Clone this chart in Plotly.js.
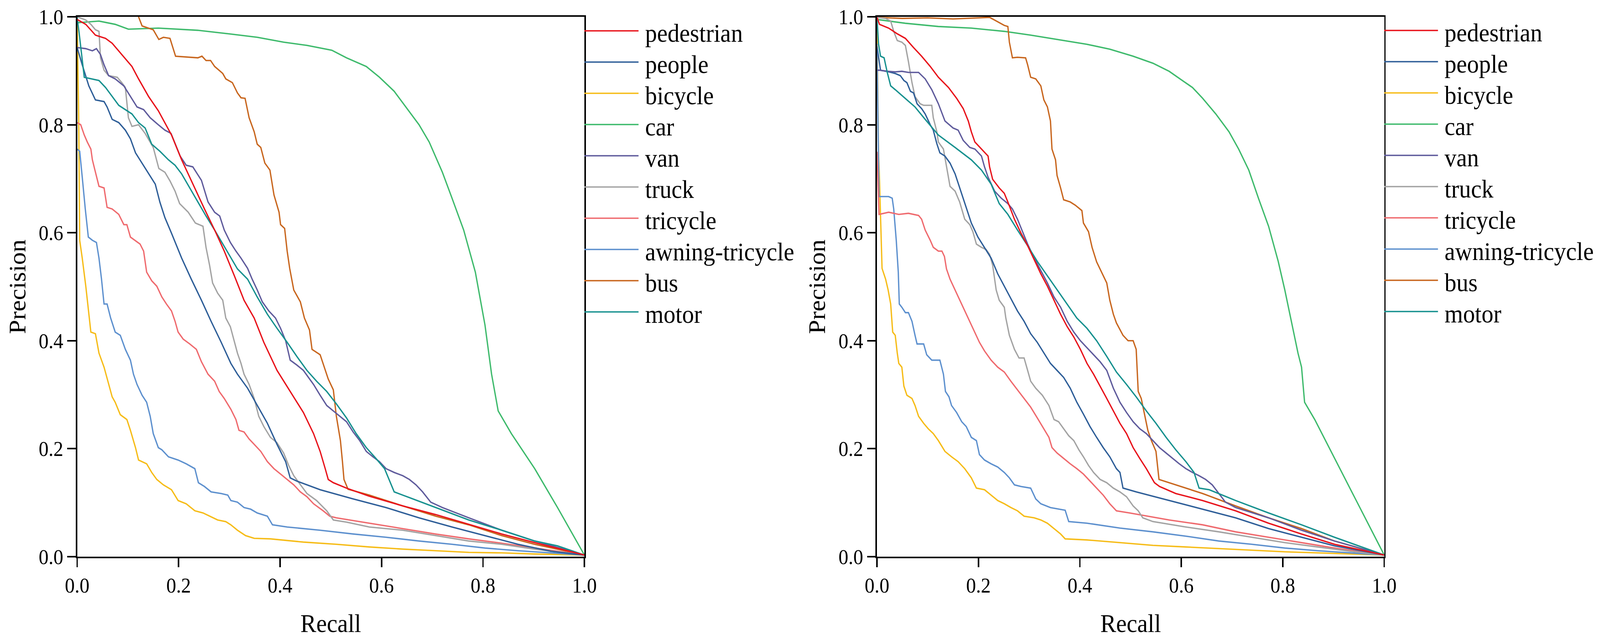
<!DOCTYPE html>
<html>
<head>
<meta charset="utf-8">
<script src="https://cdn.plot.ly/plotly-3.0.1.min.js"></script>
<style>
html,body{margin:0;padding:0;background:#fff;overflow:hidden;}
#chart{width:4375px;height:1642px;transform-origin:0 0;}
</style>
</head>
<body>
<div id="chart"></div>
<script>
// ---------- categories ----------
const categories = ["pedestrian","people","bicycle","car","van","truck","tricycle","awning-tricycle","bus","motor"];
const colors = ["#E8141C","#2E5E98","#F6BC18","#3EBA6C","#5F5B9C","#A3A3A3","#EF6A6E","#5D90CE","#C8661E","#17918F"];
const tickVals = [0,0.2,0.4,0.6,0.8,1.0];
const tickText = ["0.0","0.2","0.4","0.6","0.8","1.0"];
const xTitle = "Recall";
const yTitle = "Precision";

// ---------- left panel (A) ----------
const pedestrianRA = [0,0.017,0.036,0.056,0.069,0.088,0.108,0.121,0.141,0.16,0.186,0.206,0.225,0.251,0.271,0.29,0.31,0.329,0.349,0.368,0.394,0.42,0.446,0.466,0.479,0.489,0.495,0.505,0.531,0.576,0.642,0.707,0.772,0.837,0.902,1.0];
const pedestrianPA = [0.995,0.986,0.966,0.96,0.951,0.93,0.908,0.885,0.852,0.826,0.781,0.735,0.696,0.644,0.605,0.566,0.52,0.475,0.442,0.397,0.345,0.306,0.267,0.228,0.195,0.163,0.143,0.137,0.127,0.112,0.094,0.078,0.06,0.042,0.026,0.003];
const peopleRA = [0,0.01,0.023,0.036,0.053,0.059,0.069,0.082,0.095,0.105,0.115,0.128,0.141,0.154,0.163,0.173,0.186,0.206,0.225,0.245,0.264,0.284,0.303,0.316,0.336,0.355,0.375,0.394,0.411,0.42,0.433,0.479,0.544,0.609,0.674,0.739,0.804,0.869,0.934,1.0];
const peoplePA = [0.943,0.911,0.872,0.846,0.843,0.833,0.81,0.804,0.79,0.774,0.748,0.729,0.709,0.69,0.657,0.628,0.599,0.553,0.514,0.475,0.436,0.397,0.358,0.338,0.312,0.28,0.247,0.208,0.176,0.146,0.14,0.124,0.107,0.091,0.072,0.055,0.039,0.023,0.01,0.003];
const bicycleRA = [0,0.003,0.005,0.01,0.017,0.027,0.036,0.043,0.053,0.062,0.069,0.075,0.085,0.098,0.105,0.115,0.121,0.137,0.147,0.157,0.17,0.186,0.199,0.215,0.232,0.248,0.261,0.277,0.293,0.303,0.316,0.332,0.349,0.381,0.446,0.511,0.576,0.642,0.707,0.772,0.837,0.902,1.0];
const bicyclePA = [0.995,0.813,0.586,0.553,0.501,0.416,0.413,0.377,0.351,0.319,0.296,0.286,0.263,0.254,0.234,0.202,0.179,0.172,0.156,0.143,0.133,0.124,0.104,0.098,0.085,0.081,0.075,0.068,0.065,0.059,0.049,0.039,0.034,0.033,0.027,0.023,0.018,0.014,0.011,0.008,0.007,0.005,0.003];
const carRA = [0,0.043,0.075,0.101,0.16,0.238,0.303,0.355,0.407,0.453,0.502,0.531,0.57,0.596,0.625,0.648,0.674,0.694,0.72,0.739,0.762,0.785,0.804,0.817,0.83,0.856,0.902,0.947,1.0];
const carPA = [0.989,0.992,0.986,0.977,0.979,0.975,0.968,0.962,0.953,0.947,0.938,0.924,0.908,0.888,0.862,0.833,0.8,0.768,0.712,0.664,0.605,0.527,0.429,0.338,0.27,0.228,0.163,0.091,0.003];
const vanRA = [0,0.017,0.03,0.038,0.046,0.053,0.062,0.075,0.092,0.105,0.118,0.131,0.144,0.16,0.173,0.185,0.193,0.203,0.215,0.228,0.245,0.258,0.271,0.281,0.29,0.302,0.313,0.323,0.336,0.345,0.355,0.365,0.378,0.391,0.401,0.411,0.42,0.433,0.446,0.456,0.466,0.479,0.492,0.505,0.518,0.531,0.544,0.557,0.57,0.583,0.596,0.609,0.625,0.642,0.655,0.668,0.681,0.697,0.72,0.772,0.837,0.902,1.0];
const vanPA = [0.943,0.941,0.937,0.941,0.93,0.911,0.891,0.885,0.872,0.852,0.833,0.828,0.813,0.8,0.79,0.784,0.765,0.742,0.725,0.722,0.697,0.657,0.638,0.631,0.605,0.582,0.566,0.553,0.534,0.514,0.494,0.472,0.455,0.442,0.423,0.4,0.364,0.355,0.345,0.332,0.319,0.299,0.28,0.27,0.26,0.25,0.231,0.215,0.195,0.185,0.176,0.163,0.156,0.15,0.143,0.133,0.12,0.101,0.091,0.072,0.049,0.029,0.003];
const truckRA = [0,0.017,0.027,0.036,0.043,0.046,0.053,0.062,0.079,0.088,0.095,0.101,0.108,0.121,0.134,0.15,0.161,0.173,0.183,0.193,0.202,0.219,0.233,0.248,0.254,0.261,0.267,0.277,0.287,0.293,0.302,0.31,0.316,0.323,0.329,0.339,0.349,0.358,0.368,0.381,0.394,0.407,0.417,0.427,0.44,0.453,0.472,0.492,0.505,0.531,0.576,0.642,0.707,0.772,0.837,0.902,1.0];
const truckPA = [1.0,0.994,0.986,0.976,0.973,0.924,0.901,0.891,0.888,0.878,0.869,0.813,0.797,0.8,0.784,0.758,0.719,0.712,0.696,0.677,0.654,0.638,0.618,0.612,0.573,0.54,0.507,0.488,0.475,0.442,0.426,0.397,0.377,0.358,0.338,0.319,0.293,0.26,0.241,0.221,0.211,0.192,0.169,0.15,0.133,0.117,0.104,0.085,0.068,0.064,0.055,0.049,0.039,0.029,0.023,0.014,0.003];
const tricycleRA = [0,0.007,0.014,0.02,0.027,0.03,0.035,0.043,0.053,0.059,0.069,0.082,0.092,0.098,0.105,0.115,0.124,0.131,0.137,0.147,0.157,0.167,0.176,0.186,0.193,0.199,0.209,0.222,0.235,0.245,0.258,0.271,0.28,0.29,0.303,0.313,0.319,0.329,0.339,0.349,0.362,0.375,0.388,0.401,0.414,0.427,0.44,0.453,0.466,0.485,0.498,0.511,0.576,0.642,0.707,0.772,0.837,0.902,1.0];
const tricyclePA = [0.804,0.8,0.781,0.768,0.755,0.735,0.716,0.686,0.683,0.647,0.644,0.634,0.615,0.615,0.592,0.585,0.579,0.566,0.527,0.511,0.501,0.481,0.468,0.455,0.436,0.416,0.403,0.394,0.384,0.361,0.338,0.325,0.306,0.293,0.273,0.254,0.234,0.231,0.218,0.208,0.195,0.176,0.163,0.153,0.143,0.133,0.12,0.111,0.098,0.085,0.075,0.072,0.062,0.052,0.042,0.033,0.025,0.016,0.003];
const awningRA = [0,0.005,0.01,0.016,0.022,0.03,0.038,0.043,0.048,0.053,0.059,0.066,0.075,0.085,0.095,0.105,0.111,0.118,0.128,0.137,0.144,0.15,0.16,0.167,0.18,0.199,0.215,0.232,0.239,0.251,0.264,0.284,0.297,0.303,0.316,0.329,0.342,0.355,0.375,0.385,0.414,0.479,0.544,0.609,0.674,0.739,0.804,0.869,0.934,1.0];
const awningPA = [0.755,0.751,0.703,0.644,0.592,0.586,0.582,0.553,0.514,0.468,0.468,0.442,0.416,0.41,0.384,0.364,0.338,0.319,0.299,0.286,0.26,0.228,0.202,0.198,0.185,0.179,0.172,0.163,0.137,0.13,0.12,0.117,0.114,0.104,0.101,0.091,0.088,0.081,0.075,0.059,0.055,0.049,0.042,0.036,0.029,0.023,0.016,0.011,0.007,0.003];
const busRA = [0.121,0.128,0.15,0.161,0.17,0.183,0.194,0.219,0.238,0.246,0.254,0.263,0.271,0.287,0.293,0.306,0.316,0.323,0.331,0.339,0.349,0.355,0.362,0.37,0.38,0.388,0.398,0.401,0.409,0.414,0.419,0.427,0.44,0.448,0.458,0.463,0.479,0.495,0.505,0.511,0.519,0.523,0.526,0.534,0.576,0.642,0.707,0.772,0.837,0.902,1.0];
const busPA = [1.0,0.983,0.976,0.958,0.962,0.96,0.927,0.925,0.924,0.927,0.919,0.919,0.908,0.895,0.885,0.878,0.859,0.85,0.849,0.813,0.787,0.764,0.758,0.729,0.716,0.67,0.638,0.615,0.608,0.566,0.534,0.494,0.472,0.442,0.42,0.384,0.374,0.329,0.309,0.26,0.215,0.176,0.143,0.125,0.114,0.094,0.075,0.059,0.039,0.023,0.003];
const motorRA = [0,0.004,0.014,0.03,0.043,0.056,0.069,0.082,0.095,0.108,0.121,0.134,0.147,0.163,0.18,0.193,0.206,0.222,0.238,0.254,0.271,0.287,0.303,0.316,0.336,0.355,0.375,0.394,0.414,0.433,0.453,0.472,0.492,0.511,0.531,0.55,0.57,0.589,0.606,0.615,0.625,0.642,0.707,0.772,0.837,0.902,0.947,1.0];
const motorPA = [0.999,0.969,0.888,0.885,0.882,0.869,0.852,0.836,0.828,0.82,0.804,0.794,0.764,0.751,0.735,0.725,0.709,0.683,0.657,0.631,0.605,0.579,0.553,0.533,0.514,0.481,0.449,0.423,0.397,0.371,0.345,0.325,0.306,0.283,0.257,0.228,0.202,0.182,0.163,0.143,0.12,0.114,0.091,0.068,0.049,0.029,0.02,0.003];

// ---------- right panel (B) ----------
const pedestrianRB = [0,0.005,0.023,0.039,0.056,0.072,0.088,0.105,0.121,0.141,0.157,0.17,0.18,0.186,0.193,0.206,0.219,0.222,0.228,0.241,0.251,0.258,0.271,0.284,0.297,0.31,0.323,0.336,0.349,0.362,0.375,0.388,0.401,0.414,0.427,0.44,0.453,0.466,0.479,0.492,0.505,0.518,0.531,0.547,0.557,0.589,0.642,0.707,0.772,0.837,0.902,1.0];
const pedestrianPB = [0.999,0.986,0.979,0.969,0.96,0.943,0.927,0.908,0.888,0.869,0.849,0.83,0.807,0.787,0.768,0.755,0.742,0.722,0.699,0.683,0.673,0.657,0.625,0.599,0.576,0.55,0.524,0.501,0.475,0.449,0.426,0.407,0.384,0.358,0.338,0.316,0.293,0.27,0.247,0.228,0.202,0.182,0.163,0.137,0.13,0.117,0.104,0.085,0.062,0.042,0.023,0.003];
const peopleRB = [0,0.007,0.023,0.036,0.046,0.053,0.059,0.066,0.072,0.079,0.088,0.095,0.105,0.111,0.118,0.124,0.134,0.144,0.154,0.163,0.173,0.186,0.199,0.212,0.225,0.238,0.251,0.264,0.277,0.29,0.303,0.316,0.329,0.342,0.355,0.368,0.381,0.394,0.407,0.42,0.433,0.446,0.459,0.472,0.479,0.485,0.511,0.576,0.642,0.707,0.772,0.837,0.902,1.0];
const peoplePB = [0.945,0.901,0.898,0.895,0.891,0.882,0.878,0.862,0.859,0.839,0.83,0.82,0.8,0.79,0.765,0.748,0.742,0.729,0.709,0.683,0.654,0.618,0.592,0.573,0.553,0.524,0.501,0.478,0.455,0.436,0.413,0.397,0.377,0.358,0.345,0.332,0.312,0.286,0.264,0.241,0.221,0.202,0.185,0.163,0.156,0.127,0.12,0.104,0.088,0.072,0.052,0.036,0.02,0.003];
const bicycleRB = [0,0.003,0.005,0.01,0.017,0.022,0.027,0.031,0.036,0.04,0.043,0.049,0.053,0.059,0.069,0.075,0.082,0.092,0.101,0.111,0.121,0.134,0.147,0.16,0.173,0.186,0.196,0.212,0.225,0.238,0.251,0.264,0.277,0.29,0.31,0.323,0.336,0.349,0.362,0.371,0.414,0.479,0.544,0.609,0.674,0.739,0.804,0.869,0.934,1.0];
const bicyclePB = [0.99,0.748,0.696,0.534,0.514,0.494,0.468,0.416,0.41,0.377,0.358,0.351,0.316,0.299,0.293,0.28,0.26,0.247,0.237,0.228,0.215,0.195,0.185,0.176,0.163,0.146,0.127,0.124,0.114,0.104,0.098,0.091,0.085,0.075,0.072,0.068,0.062,0.052,0.042,0.033,0.031,0.026,0.021,0.018,0.015,0.012,0.009,0.007,0.005,0.003];
const carRB = [0,0.056,0.121,0.186,0.251,0.303,0.355,0.414,0.459,0.505,0.544,0.576,0.602,0.622,0.642,0.668,0.694,0.713,0.733,0.752,0.772,0.791,0.804,0.817,0.83,0.837,0.843,0.863,0.902,0.941,1.0];
const carPB = [0.995,0.988,0.982,0.979,0.973,0.966,0.958,0.949,0.94,0.927,0.914,0.899,0.882,0.869,0.849,0.82,0.787,0.755,0.716,0.664,0.612,0.547,0.494,0.436,0.377,0.351,0.286,0.254,0.182,0.111,0.003];
const vanRB = [0,0.005,0.023,0.036,0.049,0.062,0.082,0.095,0.108,0.121,0.134,0.15,0.16,0.17,0.183,0.193,0.206,0.212,0.219,0.232,0.245,0.258,0.267,0.277,0.287,0.297,0.31,0.323,0.336,0.349,0.362,0.375,0.388,0.401,0.414,0.427,0.44,0.453,0.466,0.479,0.492,0.505,0.518,0.531,0.544,0.557,0.57,0.583,0.596,0.609,0.622,0.635,0.648,0.661,0.674,0.687,0.707,0.772,0.837,0.902,1.0];
const vanPB = [0.901,0.901,0.899,0.898,0.899,0.897,0.897,0.885,0.865,0.839,0.807,0.794,0.79,0.771,0.758,0.755,0.742,0.722,0.703,0.677,0.664,0.654,0.644,0.625,0.602,0.579,0.553,0.53,0.507,0.481,0.462,0.436,0.416,0.4,0.387,0.374,0.361,0.345,0.312,0.286,0.267,0.25,0.237,0.228,0.215,0.202,0.192,0.182,0.172,0.163,0.156,0.15,0.143,0.133,0.117,0.101,0.091,0.072,0.049,0.029,0.003];
const truckRB = [0,0.017,0.027,0.033,0.04,0.049,0.056,0.062,0.069,0.075,0.085,0.092,0.108,0.111,0.118,0.121,0.131,0.137,0.144,0.154,0.163,0.173,0.183,0.189,0.196,0.206,0.215,0.222,0.228,0.235,0.241,0.251,0.254,0.261,0.271,0.28,0.29,0.297,0.303,0.313,0.326,0.339,0.349,0.358,0.368,0.378,0.388,0.398,0.407,0.417,0.427,0.44,0.453,0.466,0.479,0.492,0.505,0.515,0.524,0.544,0.609,0.674,0.739,0.804,0.869,0.934,1.0];
const truckPB = [0.999,0.997,0.992,0.973,0.956,0.953,0.947,0.917,0.878,0.852,0.839,0.836,0.836,0.813,0.787,0.768,0.755,0.722,0.686,0.677,0.657,0.625,0.615,0.602,0.579,0.573,0.569,0.56,0.54,0.494,0.475,0.462,0.442,0.41,0.384,0.368,0.368,0.345,0.325,0.312,0.299,0.28,0.254,0.25,0.237,0.224,0.215,0.198,0.185,0.169,0.156,0.143,0.137,0.127,0.12,0.111,0.094,0.085,0.072,0.065,0.055,0.046,0.036,0.026,0.018,0.01,0.003];
const tricycleRB = [0,0.004,0.023,0.043,0.062,0.082,0.088,0.095,0.105,0.111,0.121,0.128,0.133,0.137,0.144,0.154,0.163,0.173,0.183,0.193,0.202,0.212,0.225,0.238,0.251,0.264,0.277,0.29,0.303,0.316,0.329,0.339,0.345,0.355,0.368,0.381,0.394,0.407,0.42,0.433,0.446,0.459,0.472,0.498,0.576,0.642,0.707,0.772,0.837,0.902,1.0];
const tricyclePB = [0.75,0.634,0.638,0.634,0.636,0.632,0.625,0.605,0.586,0.573,0.566,0.566,0.556,0.533,0.514,0.494,0.475,0.455,0.436,0.416,0.397,0.381,0.364,0.351,0.342,0.325,0.309,0.293,0.277,0.257,0.237,0.221,0.202,0.192,0.182,0.172,0.163,0.153,0.14,0.127,0.114,0.098,0.085,0.081,0.068,0.059,0.046,0.036,0.026,0.016,0.003];
const awningRB = [0,0.004,0.023,0.03,0.033,0.038,0.042,0.044,0.049,0.056,0.062,0.069,0.075,0.079,0.092,0.098,0.108,0.124,0.131,0.135,0.142,0.147,0.157,0.167,0.176,0.186,0.196,0.202,0.212,0.225,0.238,0.251,0.261,0.271,0.284,0.303,0.313,0.323,0.342,0.362,0.371,0.378,0.414,0.479,0.544,0.609,0.674,0.739,0.804,0.869,0.934,1.0];
const awningPB = [0.95,0.667,0.667,0.664,0.644,0.586,0.527,0.468,0.462,0.452,0.452,0.436,0.41,0.394,0.394,0.374,0.364,0.364,0.338,0.306,0.296,0.28,0.267,0.25,0.241,0.221,0.215,0.189,0.179,0.172,0.166,0.156,0.146,0.133,0.13,0.127,0.107,0.098,0.091,0.088,0.086,0.065,0.062,0.053,0.046,0.038,0.029,0.023,0.016,0.011,0.007,0.003];
const busRB = [0,0.05,0.1,0.15,0.2,0.222,0.251,0.258,0.261,0.267,0.277,0.293,0.297,0.303,0.313,0.323,0.329,0.336,0.342,0.345,0.352,0.355,0.362,0.368,0.381,0.391,0.404,0.407,0.417,0.424,0.433,0.443,0.453,0.459,0.466,0.472,0.485,0.495,0.505,0.511,0.515,0.521,0.528,0.534,0.541,0.55,0.556,0.576,0.642,0.707,0.772,0.837,0.902,1.0];
const busPB = [0.999,0.997,0.998,0.996,0.998,0.999,0.984,0.982,0.953,0.924,0.925,0.924,0.911,0.888,0.885,0.872,0.846,0.833,0.807,0.755,0.735,0.706,0.683,0.661,0.657,0.651,0.641,0.618,0.602,0.573,0.546,0.527,0.507,0.475,0.449,0.433,0.41,0.4,0.4,0.384,0.306,0.293,0.26,0.234,0.215,0.195,0.143,0.137,0.117,0.094,0.072,0.052,0.029,0.003];
const motorRB = [0,0.003,0.007,0.014,0.02,0.027,0.036,0.056,0.075,0.095,0.121,0.154,0.186,0.206,0.225,0.241,0.258,0.277,0.297,0.316,0.336,0.355,0.375,0.394,0.414,0.433,0.453,0.472,0.492,0.511,0.531,0.55,0.57,0.589,0.609,0.625,0.635,0.655,0.707,0.772,0.837,0.902,1.0];
const motorPB = [0.999,0.95,0.927,0.924,0.898,0.872,0.865,0.849,0.833,0.81,0.781,0.758,0.735,0.716,0.69,0.654,0.634,0.605,0.576,0.547,0.52,0.494,0.468,0.442,0.423,0.4,0.371,0.342,0.319,0.296,0.27,0.247,0.221,0.198,0.176,0.156,0.127,0.124,0.104,0.081,0.059,0.036,0.003];

const seriesA = [
  [pedestrianRA, pedestrianPA],[peopleRA, peoplePA],[bicycleRA, bicyclePA],[carRA, carPA],[vanRA, vanPA],
  [truckRA, truckPA],[tricycleRA, tricyclePA],[awningRA, awningPA],[busRA, busPA],[motorRA, motorPA]
];
const seriesB = [
  [pedestrianRB, pedestrianPB],[peopleRB, peoplePB],[bicycleRB, bicyclePB],[carRB, carPB],[vanRB, vanPB],
  [truckRB, truckPB],[tricycleRB, tricyclePB],[awningRB, awningPB],[busRB, busPB],[motorRB, motorPB]
];

// ---------- geometry (designed for 4375 x 1642, then fitted to the viewport) ----------
const W = 4375, H = 1642;
const FONT = "Liberation Serif, 'Times New Roman', Times, serif";
const plotTop = 43, plotBottom = 1426;
const panels = [
  {left: 211, right: 1598, xa: 'x', ya: 'y', series: seriesA, legLineEnd: 1746, legText: 1762, legY0: 79},
  {left: 2398, right: 3785, xa: 'x2', ya: 'y2', series: seriesB, legLineEnd: 3932, legText: 3948, legY0: 78}
];
const legStep = 80;

const traces = [];
const drawOrder = [3,8,2,7,6,5,1,4,9,0];
panels.forEach(p => {
  drawOrder.forEach(i => {
    traces.push({
      type: 'scatter', mode: 'lines',
      x: p.series[i][0], y: p.series[i][1],
      xaxis: p.xa, yaxis: p.ya,
      name: categories[i], showlegend: false,
      line: {color: colors[i], width: 3.6},
      hoverinfo: 'skip'
    });
  });
});

function axisBase(domain, anchor) {
  return {
    domain: domain, anchor: anchor, range: [0, 1], fixedrange: true,
    showline: true, linecolor: '#000', linewidth: 4, mirror: true,
    ticks: 'outside', ticklen: 23, tickwidth: 4, tickcolor: '#000',
    tickvals: tickVals, ticktext: tickText,
    tickfont: {family: FONT, size: 54, color: '#000'},
    showgrid: false, zeroline: false
  };
}
const yDomain = [(H - plotBottom) / H, (H - plotTop) / H];

const layout = {
  width: W, height: H,
  margin: {l: 0, r: 0, t: 0, b: 0, pad: 0},
  paper_bgcolor: '#fff', plot_bgcolor: '#fff',
  showlegend: false,
  font: {family: FONT, color: '#000'},
  shapes: [], annotations: []
};
panels.forEach((p, k) => {
  const sx = k === 0 ? '' : '2';
  const xa = axisBase([p.left / W, p.right / W], 'y' + sx);
  xa.title = {text: xTitle, font: {family: FONT, size: 65, color: '#000'}, standoff: 46};
  const ya = axisBase(yDomain, 'x' + sx);
  ya.title = {text: yTitle, font: {family: FONT, size: 65, color: '#000'}, standoff: 16};
  layout['xaxis' + sx] = xa;
  layout['yaxis' + sx] = ya;
  categories.forEach((c, i) => {
    const yPx = p.legY0 + i * legStep;
    layout.shapes.push({
      type: 'line', xref: 'paper', yref: 'paper',
      x0: p.right / W, x1: p.legLineEnd / W, y0: 1 - yPx / H, y1: 1 - yPx / H,
      line: {color: colors[i], width: 3.5}
    });
    layout.annotations.push({
      xref: 'paper', yref: 'paper', x: p.legText / W, y: 1 - (yPx + 6) / H,
      xanchor: 'left', yanchor: 'middle', showarrow: false,
      text: c, font: {family: FONT, size: 65, color: '#000'}
    });
  });
});

// fit the 4375x1642 design into the actual viewport
const chartDiv = document.getElementById('chart');
const vw = window.innerWidth || W, vh = window.innerHeight || H;
chartDiv.style.transform = 'scale(' + (vw / W) + ',' + (vh / H) + ')';

Plotly.newPlot('chart', traces, layout, {staticPlot: true, displayModeBar: false});
</script>
</body>
</html>
